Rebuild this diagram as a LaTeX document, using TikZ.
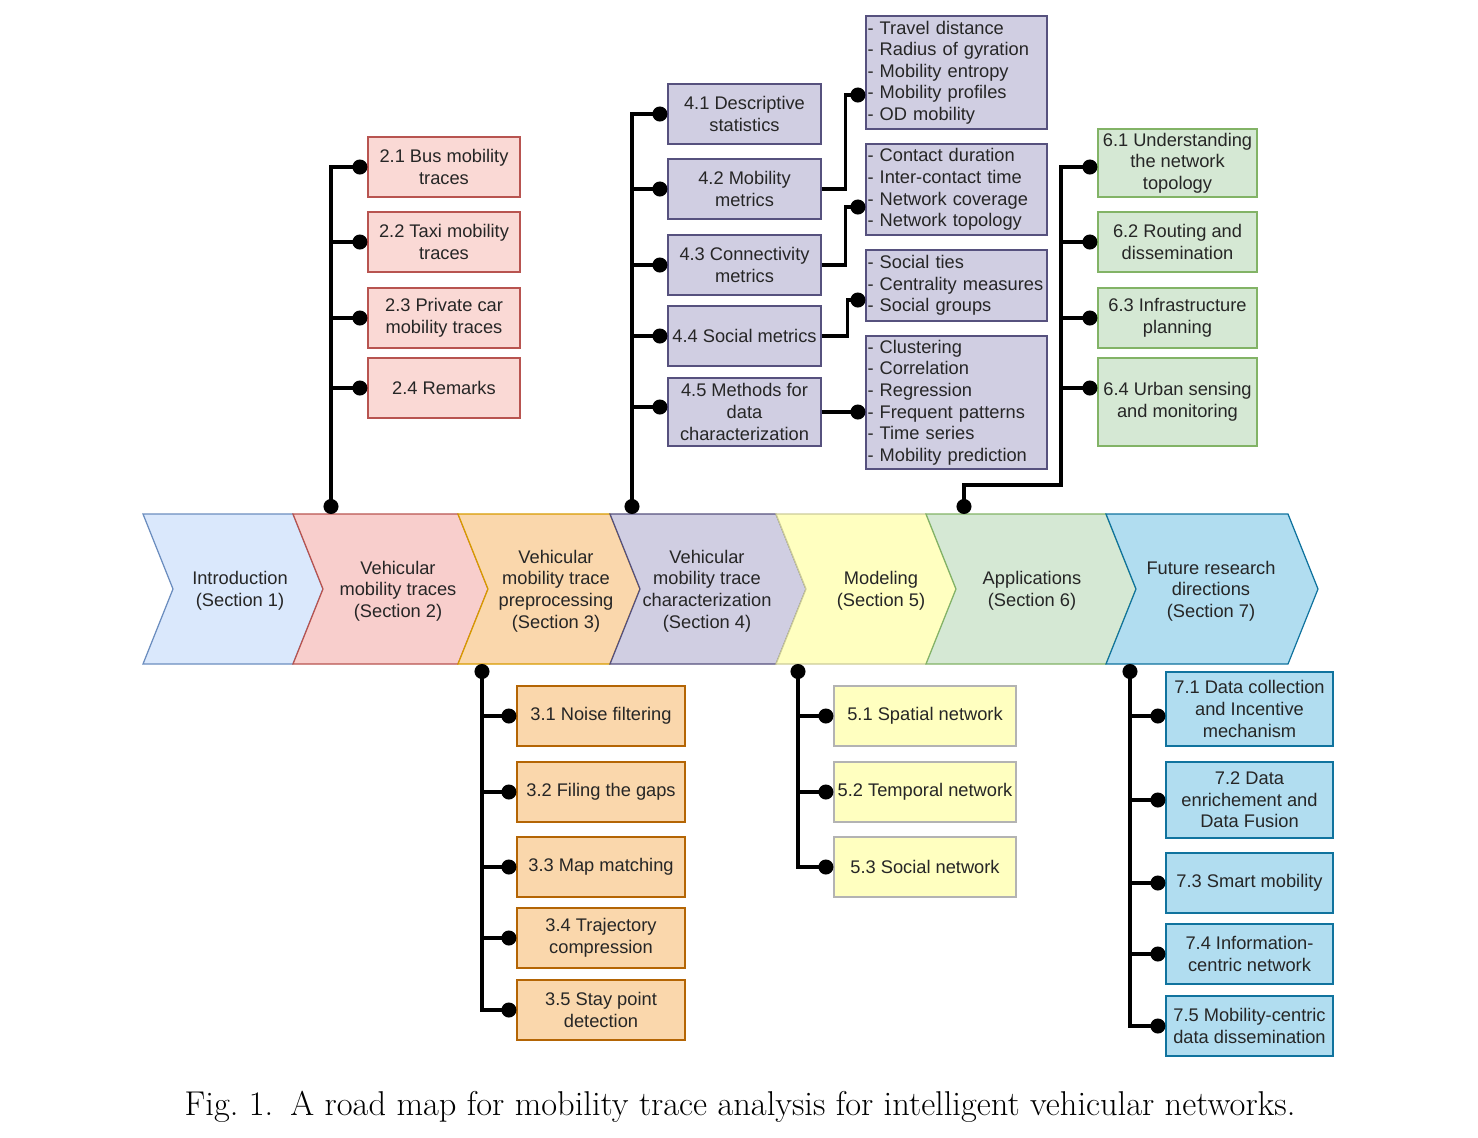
\documentclass[tikz,border=0pt]{standalone}
\usepackage{fontspec}
\newfontfamily\diagfont{Liberation Sans}
\usetikzlibrary{positioning, arrows.meta}
\newlength\pxunit
\setlength\pxunit{0.02cm}
\definecolor{introF}{HTML}{DAE8FC}\definecolor{introD}{HTML}{6C8EBF}
\definecolor{redF}{HTML}{F8CECC}\definecolor{redB}{HTML}{FAD9D5}\definecolor{redD}{HTML}{B85450}
\definecolor{orgF}{HTML}{FAD7AC}\definecolor{orgD}{HTML}{D79B00}\definecolor{orgB}{HTML}{B46504}
\definecolor{purF}{HTML}{D0CEE2}\definecolor{purD}{HTML}{56517E}
\definecolor{yelF}{HTML}{FFFFC0}\definecolor{yelD}{HTML}{CCCC99}\definecolor{yelB}{HTML}{B3B3B3}
\definecolor{grnF}{HTML}{D5E8D4}\definecolor{grnD}{HTML}{82B366}
\definecolor{bluF}{HTML}{B1DDF0}\definecolor{bluD}{HTML}{10739E}
\tikzset{
    chev/.style={line width=0.7pt, line join=miter},
    introC/.style={fill=introF, draw=introD},
    trC/.style={fill=redF, draw=redD},
    preC/.style={fill=orgF, draw=orgD},
    charC/.style={fill=purF, draw=purD},
    modC/.style={fill=yelF, draw=yelD},
    appC/.style={fill=grnF, draw=grnD},
    futC/.style={fill=bluF, draw=bluD},
    label text/.style={align=center, inner sep=0pt, text=black!85, font=\diagfont\fontsize{10.4}{12.3}\selectfont},
    box/.style={label text, draw, rectangle, line width=0.7pt, minimum width=152\pxunit, minimum height=60\pxunit},
    trbox/.style={box, fill=redB, draw=redD},
    prebox/.style={box, fill=orgF, draw=orgB, minimum width=168\pxunit},
    charbox/.style={box, fill=purF, draw=purD, minimum width=153\pxunit},
    detail/.style={box, fill=purF, draw=purD, align=left, text width=178\pxunit, inner xsep=1.5\pxunit},
    modbox/.style={box, fill=yelF, draw=yelB, minimum width=182\pxunit},
    appbox/.style={box, fill=grnF, draw=grnD, minimum width=159\pxunit},
    futbox/.style={box, fill=bluF, draw=bluD, minimum width=167\pxunit},
    link/.style={line width=1.8pt, draw=black},
    ball/.tip={Circle[length=0.3cm]}
}

\begin{document}
\begin{tikzpicture}[x=0.02cm, y=-0.02cm]
  \useasboundingbox (0,0) rectangle (1478,1137);

  % road map
  \foreach \l/\r/\tx/\sty/\name/\txt in {
      143/293/240/introC/c1/{Introduction\\(Section 1)},
      293/458/398/trC/c2/{Vehicular\\mobility traces\\(Section 2)},
      458/610/556/preC/c3/{Vehicular\\mobility trace\\preprocessing\\(Section 3)},
      610/776/707/charC/c4/{Vehicular\\mobility trace\\characterization\\(Section 4)},
      776/926/881/modC/c5/{Modeling\\(Section 5)},
      926/1106/1032/appC/c6/{Applications\\(Section 6)},
      1106/1288/1211/futC/c7/{Future research\\directions\\(Section 7)}}
  {
    \draw[chev, \sty] (\l,514) -- (\r,514) -- (\r+30,589) -- (\r,664) -- (\l,664) -- (\l+30,589) -- cycle;
    \node[label text] (\name) at (\tx,591) {\txt};
  }

  % section 2
  \node[trbox] (b21) at (444,167) {2.1 Bus mobility\\traces};
  \node[trbox] (b22) at (444,242) {2.2 Taxi mobility\\traces};
  \node[trbox] (b23) at (444,318) {2.3 Private car\\mobility traces};
  \node[trbox] (b24) at (444,388) {2.4 Remarks};
  \coordinate (t2) at (331,514);
  \draw[link, ball-ball] (t2) |- (b21.west);
  \foreach \b in {b22,b23,b24}
    \draw[link, -ball] (t2 |- \b.west) -- (\b.west);

  % section 4
  \node[charbox] (b41) at (744.5,114) {4.1 Descriptive\\statistics};
  \node[charbox] (b42) at (744.5,189) {4.2 Mobility\\metrics};
  \node[charbox] (b43) at (744.5,265) {4.3 Connectivity\\metrics};
  \node[charbox] (b44) at (744.5,336) {4.4 Social metrics};
  \node[charbox, minimum height=68\pxunit] (b45) at (744.5,412) {4.5 Methods for\\data\\characterization};
  \node[detail, minimum height=113\pxunit] (d1) at (956.5,72.5) {- Travel distance\\- Radius of gyration\\- Mobility entropy\\- Mobility profiles\\- OD mobility};
  \node[detail, minimum height=91\pxunit] (d2) at (956.5,189.5) {- Contact duration\\- Inter-contact time\\- Network coverage\\- Network topology};
  \node[detail, minimum height=71\pxunit] (d3) at (956.5,285.5) {- Social ties\\- Centrality measures\\- Social groups};
  \node[detail, minimum height=133\pxunit] (d4) at (956.5,402.5) {- Clustering\\- Correlation\\- Regression\\- Frequent patterns\\- Time series\\- Mobility prediction};
  \coordinate (t4) at (632,514);
  \coordinate (p45) at ([yshift=5\pxunit]b45.west);
  \draw[link, ball-ball] (t4) |- (b41.west);
  \foreach \b in {b42,b43,b44}
    \draw[link, -ball] (t4 |- \b.west) -- (\b.west);
  \draw[link, -ball] (t4 |- p45) -- (p45);
  \draw[link, -ball] (b42.east) -- ++(24,0) |- ([yshift=-22.5\pxunit]d1.west);
  \draw[link, -ball] (b43.east) -- ++(24,0) |- ([yshift=-17.5\pxunit]d2.west);
  \draw[link, -ball] (b44.east) -- ++(26,0) |- ([yshift=-14.5\pxunit]d3.west);
  \draw[link, -ball] (b45.east) -- (b45.east -| d4.west);

  % section 6
  \node[appbox, minimum height=68\pxunit] (b61) at (1177.5,163) {6.1 Understanding\\the network\\topology};
  \node[appbox] (b62) at (1177.5,242) {6.2 Routing and\\dissemination};
  \node[appbox] (b63) at (1177.5,318) {6.3 Infrastructure\\planning};
  \node[appbox, minimum height=88\pxunit] (b64) at (1177.5,402) {6.4 Urban sensing\\and monitoring};
  \coordinate (t6) at (964,514);
  \coordinate (j6) at (1061,485);
  \coordinate (p61) at ([yshift=-4\pxunit]b61.west);
  \coordinate (p64) at ([yshift=14\pxunit]b64.west);
  \draw[link, ball-ball] (t6) |- (j6) |- (p61);
  \foreach \b in {b62,b63}
    \draw[link, -ball] (j6 |- \b.west) -- (\b.west);
  \draw[link, -ball] (j6 |- p64) -- (p64);

  % section 3
  \node[prebox] (b31) at (601,716) {3.1 Noise filtering};
  \node[prebox] (b32) at (601,792) {3.2 Filing the gaps};
  \node[prebox] (b33) at (601,867) {3.3 Map matching};
  \node[prebox] (b34) at (601,938) {3.4 Trajectory\\compression};
  \node[prebox] (b35) at (601,1010) {3.5 Stay point\\detection};
  \coordinate (t3) at (482,664);
  \draw[link, ball-ball] (t3) |- (b35.west);
  \foreach \b in {b31,b32,b33,b34}
    \draw[link, -ball] (t3 |- \b.west) -- (\b.west);

  % section 5
  \node[modbox] (b51) at (925,716) {5.1 Spatial network};
  \node[modbox] (b52) at (925,792) {5.2 Temporal network};
  \node[modbox] (b53) at (925,867) {5.3 Social network};
  \coordinate (t5) at (798,664);
  \draw[link, ball-ball] (t5) |- (b53.west);
  \foreach \b in {b51,b52}
    \draw[link, -ball] (t5 |- \b.west) -- (\b.west);

  % section 7
  \node[futbox, minimum height=74\pxunit] (b71) at (1249.5,709) {7.1 Data collection\\and Incentive\\mechanism};
  \node[futbox, minimum height=76\pxunit] (b72) at (1249.5,800) {7.2 Data\\enrichement and\\Data Fusion};
  \node[futbox] (b73) at (1249.5,883) {7.3 Smart mobility};
  \node[futbox] (b74) at (1249.5,954) {7.4 Information-\\centric network};
  \node[futbox] (b75) at (1249.5,1026) {7.5 Mobility-centric\\data dissemination};
  \coordinate (t7) at (1130,664);
  \coordinate (p71) at ([yshift=-7\pxunit]b71.west);
  \draw[link, ball-ball] (t7) |- (b75.west);
  \draw[link, -ball] (t7 |- p71) -- (p71);
  \foreach \b in {b72,b73,b74}
    \draw[link, -ball] (t7 |- \b.west) -- (\b.west);

  % caption
  \node[inner sep=0pt, font=\fontsize{19.6}{22}\selectfont] (cap) at (740,1107)
    {Fig.~1.\enspace A road map for mobility trace analysis for intelligent vehicular networks.};
\end{tikzpicture}
\end{document}
